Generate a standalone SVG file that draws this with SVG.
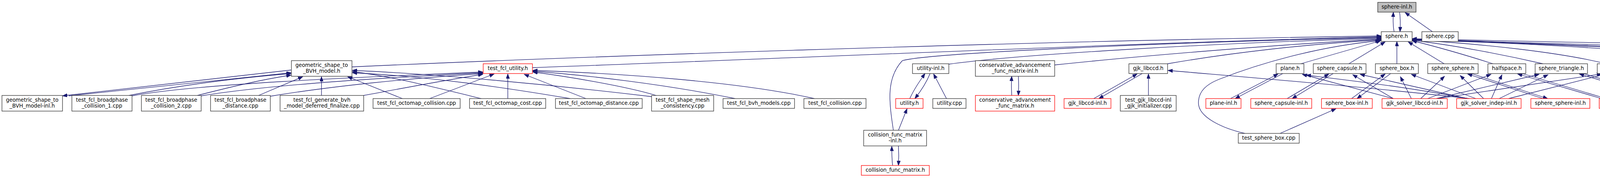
<svg xmlns="http://www.w3.org/2000/svg" width="5334" height="455" viewBox="0 0 5334 455">
<style>
rect{fill:#fff;stroke:#303030;stroke-width:1.3}
.red rect{stroke:#ff0000}
.root rect{fill:#bfbfbf;stroke:#303030}
text{font-family:"DejaVu Sans","Liberation Sans",sans-serif;font-size:13.3px;text-anchor:middle;fill:#000}
#edges path{fill:none;stroke:#191970;stroke-width:1.3;marker-end:url(#ah)}
</style>
<defs>
<marker id="ah" markerUnits="userSpaceOnUse" markerWidth="13" markerHeight="10" refX="12" refY="4.5" orient="auto"><path d="M0,0 L12,4.5 L0,9 z" fill="#191970" stroke="#191970" stroke-width="1"/></marker>
</defs>
<rect x="0" y="0" width="5334" height="455" style="fill:#fff;stroke:none"/>
<g id="edges">
<path d="M3569,81 C3566,68 3566,50 3567,31"/>
<path d="M3583,31 C3585,45 3585,64 3584,81"/>
<path d="M3667,81 L3597,32"/>
<path d="M901,171 C1400,148 2600,105 3536,92"/>
<path d="M1363,173 C2000,150 2900,110 3536,94"/>
<path d="M2287,333 C2276,260 2268,200 2310,155 C2380,135 3000,108 3536,96"/>
<path d="M2429,164 C2600,140 3100,110 3536,98"/>
<path d="M2700,166 C2900,145 3250,115 3536,100"/>
<path d="M2989,163 C3150,135 3350,112 3536,102"/>
<path d="M3187,341 C3130,328 3068,300 3068,263 C3068,232 3090,215 3120,203 C3250,152 3400,116 3533,104"/>
<path d="M3330,163 L3535,104"/>
<path d="M3453,163 L3546,107"/>
<path d="M3576,163 L3576,106"/>
<path d="M3697,163 L3605,107"/>
<path d="M3822,163 C3750,140 3680,120 3615,104"/>
<path d="M3950,163 C3850,140 3720,115 3615,103"/>
<path d="M4112,163 C4000,135 3800,112 3615,102"/>
<path d="M4663,163 C4500,135 4100,118 3615,101"/>
<path d="M4818,157 C4600,130 4100,120 3615,100"/>
<path d="M5064,163 C4950,135 4300,122 3615,100"/>
<path d="M5186,156 C4900,120 4300,115 3615,99"/>
<path d="M4564,341 C4585,310 4603,280 4590,250 C4570,205 4480,170 4400,155 C4200,125 3900,110 3615,102"/>
<path d="M176,245 L745,186"/>
<path d="M745,179 L160,245"/>
<path d="M330,244 C450,220 600,200 745,188"/>
<path d="M505,244 C580,225 660,205 745,192"/>
<path d="M662,244 L775,196"/>
<path d="M823,244 L823,196"/>
<path d="M1030,252 L890,196"/>
<path d="M1232,252 C1100,220 1000,195 902,183"/>
<path d="M1460,252 C1300,225 1100,195 902,186"/>
<path d="M1668,247 C1400,215 1100,188 902,180"/>
<path d="M338,245 C500,215 900,198 1236,184"/>
<path d="M515,245 C700,215 1000,198 1236,186"/>
<path d="M692,246 C850,220 1050,200 1236,188"/>
<path d="M931,244 C1050,222 1150,203 1236,190"/>
<path d="M1100,252 L1265,189"/>
<path d="M1300,252 L1300,189"/>
<path d="M1500,252 L1342,190"/>
<path d="M1680,244 C1600,220 1450,195 1364,184"/>
<path d="M1882,252 C1700,215 1500,192 1364,182"/>
<path d="M2085,252 C1900,210 1600,188 1364,180"/>
<path d="M2329,252 C2340,228 2354,208 2368,188"/>
<path d="M2381,188 C2372,210 2358,232 2342,252"/>
<path d="M2423,252 L2390,189"/>
<path d="M2300,333 L2322,278"/>
<path d="M2285,423 C2283,405 2283,390 2283,374"/>
<path d="M2300,373 C2301,390 2301,405 2300,423"/>
<path d="M2590,244 C2589,225 2589,212 2590,195"/>
<path d="M2607,195 C2608,212 2608,225 2607,244"/>
<path d="M2800,252 L2911,189"/>
<path d="M2924,188 L2813,252"/>
<path d="M2940,244 L2940,189"/>
<path d="M3762,252 C3500,222 3150,194 2990,180"/>
<path d="M3150,252 L3272,189"/>
<path d="M3284,188 L3162,252"/>
<path d="M3295,252 L3402,189"/>
<path d="M3413,188 L3308,252"/>
<path d="M3460,252 L3546,189"/>
<path d="M3560,188 L3474,252"/>
<path d="M3950,252 L3757,189"/>
<path d="M3767,188 L3962,252"/>
<path d="M4100,252 L3885,189"/>
<path d="M3897,188 L4112,252"/>
<path d="M4255,252 L4043,189"/>
<path d="M4053,188 L4272,252"/>
<path d="M4432,252 L4203,189"/>
<path d="M4213,188 L4448,252"/>
<path d="M4708,252 C4706,235 4706,205 4707,189"/>
<path d="M4723,188 C4725,205 4725,235 4723,252"/>
<path d="M4857,252 L4743,189"/>
<path d="M3567,252 L3334,190"/>
<path d="M3567,252 L3463,191"/>
<path d="M3613,252 L3585,196"/>
<path d="M3637,252 L3698,195"/>
<path d="M3655,252 L3817,190"/>
<path d="M3677,252 L3940,190"/>
<path d="M3680,252 L4100,189"/>
<path d="M3758,252 C3600,222 3450,205 3344,192"/>
<path d="M3756,252 L3482,190"/>
<path d="M3778,252 L3613,190"/>
<path d="M3798,252 L3738,193"/>
<path d="M3818,252 L3845,191"/>
<path d="M3838,252 L3963,191"/>
<path d="M3862,252 L4108,190"/>
<path d="M3277,341 L3420,278"/>
<path d="M4545,341 L4507,278"/>
</g>
<g id="n_sphere_inl_h" class="root"><rect x="3527" y="6" width="98" height="25"/><text x="3576" y="22.3">sphere-inl.h</text></g>
<g id="n_sphere_h"><rect x="3536" y="81" width="79" height="25"/><text x="3575.5" y="97.3">sphere.h</text></g>
<g id="n_sphere_cpp"><rect x="3640" y="81" width="93" height="25"/><text x="3686.5" y="97.3">sphere.cpp</text></g>
<g id="n_geom_bvh_h"><rect x="746" y="155" width="155" height="40"/><text x="823.5" y="171">geometric_shape_to</text><text x="823.5" y="186">_BVH_model.h</text></g>
<g id="n_test_fcl_utility_h" class="red"><rect x="1237" y="163" width="126" height="25"/><text x="1300" y="179.3">test_fcl_utility.h</text></g>
<g id="n_utility_inl_h"><rect x="2336" y="163" width="93" height="25"/><text x="2382.5" y="179.3">utility-inl.h</text></g>
<g id="n_ca_inl_h"><rect x="2497" y="155" width="203" height="40"/><text x="2598.5" y="171">conservative_advancement</text><text x="2598.5" y="186">_func_matrix-inl.h</text></g>
<g id="n_gjk_libccd_h"><rect x="2890" y="163" width="99" height="25"/><text x="2939.5" y="179.3">gjk_libccd.h</text></g>
<g id="n_plane_h"><rect x="3267" y="163" width="71" height="25"/><text x="3302.5" y="179.3">plane.h</text></g>
<g id="n_sphere_capsule_h"><rect x="3362" y="163" width="135" height="25"/><text x="3429.5" y="179.3">sphere_capsule.h</text></g>
<g id="n_sphere_box_h"><rect x="3521" y="163" width="110" height="25"/><text x="3576" y="179.3">sphere_box.h</text></g>
<g id="n_sphere_sphere_h"><rect x="3655" y="163" width="129" height="25"/><text x="3719.5" y="179.3">sphere_sphere.h</text></g>
<g id="n_halfspace_h"><rect x="3809" y="163" width="97" height="25"/><text x="3857.5" y="179.3">halfspace.h</text></g>
<g id="n_sphere_triangle_h"><rect x="3930" y="163" width="134" height="25"/><text x="3997" y="179.3">sphere_triangle.h</text></g>
<g id="n_sphere_cylinder_h"><rect x="4089" y="163" width="136" height="25"/><text x="4157" y="179.3">sphere_cylinder.h</text></g>
<g id="n_minkowski_diff_inl_h"><rect x="4639" y="163" width="154" height="25"/><text x="4716" y="179.3">minkowski_diff-inl.h</text></g>
<g id="n_test_bp_dyn"><rect x="4818" y="155" width="193" height="40"/><text x="4914.5" y="171">test_broadphase_dynamic</text><text x="4914.5" y="186">_AABB_tree.cpp</text></g>
<g id="n_test_sphere_cpp"><rect x="5036" y="163" width="125" height="25"/><text x="5098.5" y="179.3">test_sphere.cpp</text></g>
<g id="n_test_failed"><rect x="5186" y="155" width="143" height="40"/><text x="5257.5" y="171">test_failed_at_this</text><text x="5257.5" y="186">_configuration.cpp</text></g>
<g id="n_geom_bvh_inl_h"><rect x="5" y="244" width="155" height="40"/><text x="82.5" y="260">geometric_shape_to</text><text x="82.5" y="275">_BVH_model-inl.h</text></g>
<g id="n_bc1"><rect x="184" y="244" width="154" height="40"/><text x="261" y="260">test_fcl_broadphase</text><text x="261" y="275">_collision_1.cpp</text></g>
<g id="n_bc2"><rect x="362" y="244" width="153" height="40"/><text x="438.5" y="260">test_fcl_broadphase</text><text x="438.5" y="275">_collision_2.cpp</text></g>
<g id="n_bd"><rect x="539" y="244" width="153" height="40"/><text x="615.5" y="260">test_fcl_broadphase</text><text x="615.5" y="275">_distance.cpp</text></g>
<g id="n_gen"><rect x="717" y="244" width="214" height="40"/><text x="824" y="260">test_fcl_generate_bvh</text><text x="824" y="275">_model_deferred_finalize.cpp</text></g>
<g id="n_oc"><rect x="955" y="252" width="223" height="25"/><text x="1066.5" y="268.3">test_fcl_octomap_collision.cpp</text></g>
<g id="n_ocost"><rect x="1202" y="252" width="195" height="25"/><text x="1299.5" y="268.3">test_fcl_octomap_cost.cpp</text></g>
<g id="n_od"><rect x="1422" y="252" width="222" height="25"/><text x="1533" y="268.3">test_fcl_octomap_distance.cpp</text></g>
<g id="n_smc"><rect x="1668" y="244" width="159" height="40"/><text x="1747.5" y="260">test_fcl_shape_mesh</text><text x="1747.5" y="275">_consistency.cpp</text></g>
<g id="n_bvhm"><rect x="1851" y="252" width="183" height="25"/><text x="1942.5" y="268.3">test_fcl_bvh_models.cpp</text></g>
<g id="n_coll"><rect x="2058" y="252" width="159" height="25"/><text x="2137.5" y="268.3">test_fcl_collision.cpp</text></g>
<g id="n_utility_h" class="red"><rect x="2293" y="252" width="70" height="25"/><text x="2328" y="268.3">utility.h</text></g>
<g id="n_utility_cpp"><rect x="2388" y="252" width="85" height="25"/><text x="2430.5" y="268.3">utility.cpp</text></g>
<g id="n_ca_h" class="red"><rect x="2497" y="244" width="203" height="40"/><text x="2598.5" y="260">conservative_advancement</text><text x="2598.5" y="275">_func_matrix.h</text></g>
<g id="n_gjk_libccd_inl_h" class="red"><rect x="2724" y="252" width="120" height="25"/><text x="2784" y="268.3">gjk_libccd-inl.h</text></g>
<g id="n_test_gjk"><rect x="2868" y="244" width="143" height="40"/><text x="2939.5" y="260">test_gjk_libccd-inl</text><text x="2939.5" y="275">_gjk_initializer.cpp</text></g>
<g id="n_plane_inl_h" class="red"><rect x="3087" y="252" width="90" height="25"/><text x="3132" y="268.3">plane-inl.h</text></g>
<g id="n_sphere_capsule_inl_h" class="red"><rect x="3202" y="252" width="156" height="25"/><text x="3280" y="268.3">sphere_capsule-inl.h</text></g>
<g id="n_sphere_box_inl_h" class="red"><rect x="3383" y="252" width="130" height="25"/><text x="3448" y="268.3">sphere_box-inl.h</text></g>
<g id="n_gjk_solver_libccd_inl_h" class="red"><rect x="3538" y="252" width="167" height="25"/><text x="3621.5" y="268.3">gjk_solver_libccd-inl.h</text></g>
<g id="n_gjk_solver_indep_inl_h" class="red"><rect x="3729" y="252" width="165" height="25"/><text x="3811.5" y="268.3">gjk_solver_indep-inl.h</text></g>
<g id="n_sphere_sphere_inl_h" class="red"><rect x="3919" y="252" width="151" height="25"/><text x="3994.5" y="268.3">sphere_sphere-inl.h</text></g>
<g id="n_halfspace_inl_h" class="red"><rect x="4094" y="252" width="119" height="25"/><text x="4153.5" y="268.3">halfspace-inl.h</text></g>
<g id="n_sphere_triangle_inl_h" class="red"><rect x="4237" y="252" width="156" height="25"/><text x="4315" y="268.3">sphere_triangle-inl.h</text></g>
<g id="n_sphere_cylinder_inl_h" class="red"><rect x="4417" y="252" width="157" height="25"/><text x="4495.5" y="268.3">sphere_cylinder-inl.h</text></g>
<g id="n_minkowski_diff_h" class="red"><rect x="4649" y="252" width="134" height="25"/><text x="4716" y="268.3">minkowski_diff.h</text></g>
<g id="n_minkowski_diff_cpp"><rect x="4807" y="252" width="148" height="25"/><text x="4881" y="268.3">minkowski_diff.cpp</text></g>
<g id="n_cfm_inl_h"><rect x="2211" y="333" width="161" height="40"/><text x="2291.5" y="349">collision_func_matrix</text><text x="2291.5" y="364">-inl.h</text></g>
<g id="n_test_sphere_box"><rect x="3170" y="341" width="156" height="25"/><text x="3248" y="357.3">test_sphere_box.cpp</text></g>
<g id="n_test_sphere_cylinder"><rect x="4462" y="341" width="183" height="25"/><text x="4553.5" y="357.3">test_sphere_cylinder.cpp</text></g>
<g id="n_cfm_h" class="red"><rect x="2205" y="423" width="174" height="25"/><text x="2292" y="439.3">collision_func_matrix.h</text></g>
</svg>
